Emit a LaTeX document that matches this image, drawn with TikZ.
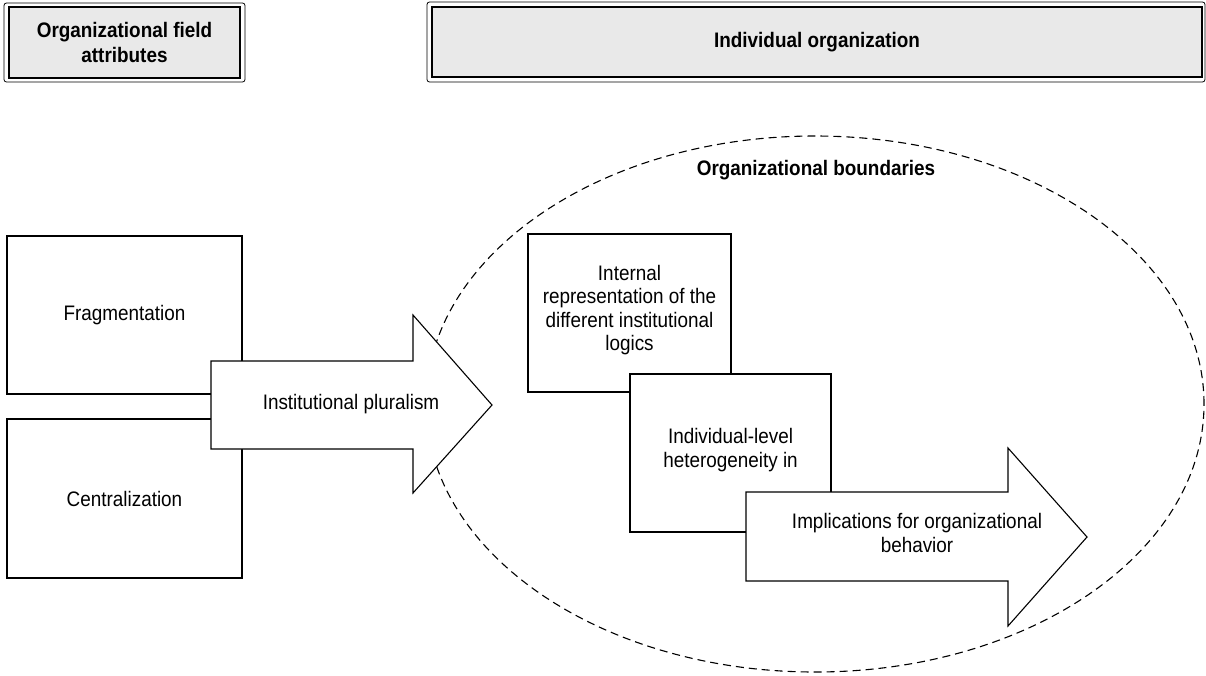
\documentclass[tikz,border=0pt]{standalone}
\usepackage{fontspec}
\setmainfont{Liberation Sans}[FakeStretch=0.9]
\usetikzlibrary{shapes.geometric}
\definecolor{headgray}{HTML}{E9E9E9}
\begin{document}
\begin{tikzpicture}[x=1pt,y=-1pt,
  every node/.style={font=\fontsize{21}{23.5}\selectfont, align=center, inner sep=0pt},
  plainbox/.style={draw, line width=1.1pt, fill=white},
  bigarrow/.style={draw, line width=1.1pt, fill=white, line join=miter},
  headframe/.style={draw, line width=0.8pt, rounded corners=2.5pt, fill=white},
  headpanel/.style={draw, line width=1.7pt, fill=headgray,
    font=\fontsize{21}{25}\selectfont\bfseries},
  boundary/.style={draw, ellipse, dashed, dash pattern=on 8pt off 5pt, line width=1.1pt}]
\useasboundingbox (0,0) rectangle (1206,675);

% column headers
\node[headframe, minimum width=241pt, minimum height=79pt] (fieldframe) at (124.5,42.5) {};
\node[headpanel, minimum width=231pt, minimum height=71pt] (field) at (124.5,42.5)
  {Organizational field\\attributes};
\node[headframe, minimum width=778pt, minimum height=80pt] (orgframe) at (816,42) {};
\node[headpanel, minimum width=770pt, minimum height=70pt] (org) at (817,42)
  {Individual organization};

% organizational boundary
\node[boundary, minimum width=778pt, minimum height=536pt] (bound) at (815,404) {};
\node[font=\fontsize{21}{23.5}\selectfont\bfseries] (boundlabel) at (816,170)
  {Organizational boundaries};

% field attributes
\node[plainbox, minimum width=235pt, minimum height=158pt] (frag) at (124.5,315) {Fragmentation};
\node[plainbox, minimum width=235pt, minimum height=159pt] (central) at (124.5,498.5) {Centralization};

% institutional pluralism arrow
\coordinate (pa) at (211,361);
\draw[bigarrow] (pa) -- (413,361) -- (413,315) -- (492,405) -- (413,493)
  -- (413,449) -- (211,449) -- cycle;
\node (plural) at (351,404) {Institutional pluralism};

% inside the organization
\node[plainbox, minimum width=203pt, minimum height=158pt] (internal) at (629.5,313) {};
\node (internaltext) at (629.5,310)
  {Internal\\representation of the\\different institutional\\logics};
\node[plainbox, minimum width=201pt, minimum height=158pt] (hetero) at (730.5,453) {};
\node (heterotext) at (730.5,450) {Individual-level\\heterogeneity in};

% implications arrow
\coordinate (ia) at (746,492);
\draw[bigarrow] (ia) -- (1008,492) -- (1008,448) -- (1087,537) -- (1008,626)
  -- (1008,581) -- (746,581) -- cycle;
\node (implic) at (917,533) {Implications for organizational\\behavior};
\end{tikzpicture}
\end{document}
